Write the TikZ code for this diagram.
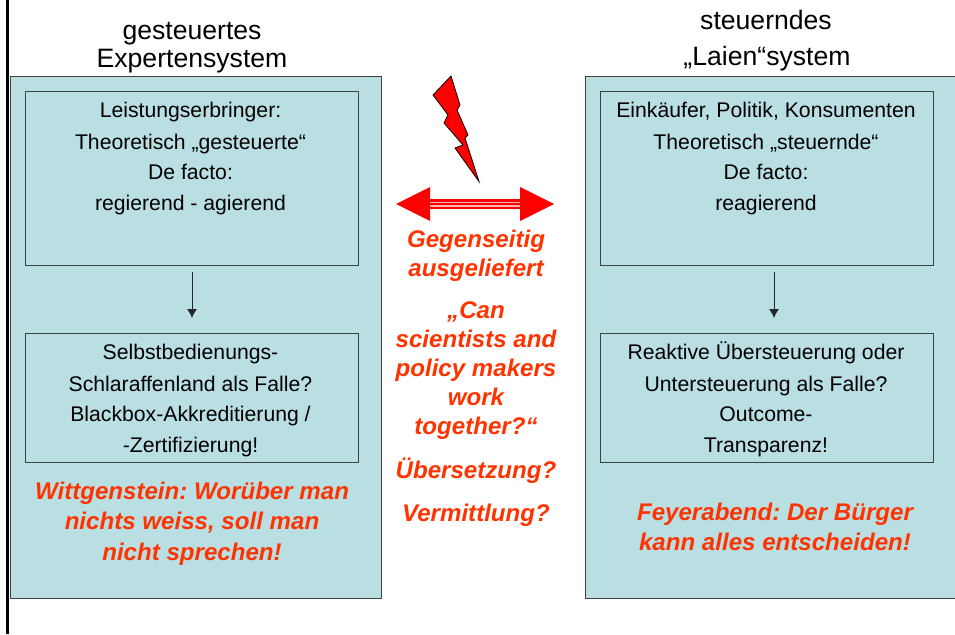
\documentclass[tikz,border=0pt]{standalone}
\usepackage{fontspec}
\setmainfont{Liberation Sans}
\frenchspacing
\definecolor{teal1}{RGB}{185,223,227}
\definecolor{redtxt}{RGB}{255,51,0}
\usetikzlibrary{arrows.meta}
\tikzset{
 outerbox/.style={draw=black!75,fill=teal1,line width=1pt},
 innerbox/.style={draw=black!75,line width=1pt},
 lab/.style={anchor=base,inner sep=0pt,font=\fontsize{21.2}{21.2}\selectfont},
 head/.style={anchor=base,inner sep=0pt,font=\fontsize{26.6}{26.6}\selectfont},
 redlab/.style={anchor=base,inner sep=0pt,text=redtxt,font=\fontsize{24.1}{24.1}\selectfont\bfseries\itshape},
 flow/.style={draw=black!85,line width=1pt,-{Latex[length=9pt,width=10pt]}}
}
\begin{document}
\begin{tikzpicture}[x=1pt,y=-1pt]
\useasboundingbox (0,0) rectangle (955,634);
\draw[black,line width=2.6pt] (7.5,0) -- (7.5,634);
\node[outerbox,minimum width=371pt,minimum height=522pt,anchor=north west,inner sep=0pt] (lo) at (10,76) {};
\node[outerbox,minimum width=370pt,minimum height=522pt,anchor=north west,inner sep=0pt] (ro) at (585,76) {};
\node[innerbox,minimum width=333pt,minimum height=174pt,anchor=north west,inner sep=0pt] (l1) at (25,91) {};
\node[innerbox,minimum width=333pt,minimum height=129pt,anchor=north west,inner sep=0pt] (l2) at (25,333) {};
\node[innerbox,minimum width=333pt,minimum height=174pt,anchor=north west,inner sep=0pt] (r1) at (600,91) {};
\node[innerbox,minimum width=333pt,minimum height=129pt,anchor=north west,inner sep=0pt] (r2) at (600,333) {};
\coordinate (fl1) at (192,272);
\coordinate (fl2) at (192,318);
\coordinate (fr1) at (774,272);
\coordinate (fr2) at (774,318);
\draw[flow] (fl1) -- (fl2);
\draw[flow] (fr1) -- (fr2);
\node[head] (h1) at (192,39.5) {gesteuertes};
\node[head] (h2) at (192,67) {Expertensystem};
\node[head] (h3) at (766,30) {steuerndes};
\node[head] (h4) at (767,65.5) {„Laien“system};
\node[lab] (a1) at (190.5,117) {Leistungserbringer:};
\node[lab] (a2) at (190.5,149) {Theoretisch „gesteuerte“};
\node[lab] (a3) at (190.5,179) {De facto:};
\node[lab] (a4) at (190.5,210) {regierend - agierend};
\node[lab] (b1) at (190.5,359) {Selbstbedienungs-};
\node[lab] (b2) at (190.5,391) {Schlaraffenland als Falle?};
\node[lab] (b3) at (190.5,421) {Blackbox-Akkreditierung /};
\node[lab] (b4) at (190.5,452) {-Zertifizierung!};
\node[lab] (c1) at (766,117) {Einkäufer, Politik, Konsumenten};
\node[lab] (c2) at (766,149) {Theoretisch „steuernde“};
\node[lab] (c3) at (766,179) {De facto:};
\node[lab] (c4) at (766,210) {reagierend};
\node[lab] (d1) at (766,359) {Reaktive Übersteuerung oder};
\node[lab] (d2) at (766,391) {Untersteuerung als Falle?};
\node[lab] (d3) at (766,421) {Outcome-};
\node[lab] (d4) at (766,452) {Transparenz!};
\node[redlab] (e1) at (192,499) {Wittgenstein: Worüber man};
\node[redlab] (e2) at (192,529) {nichts weiss, soll man};
\node[redlab] (e3) at (192,560) {nicht sprechen!};
\node[redlab] (f1) at (775,520) {Feyerabend: Der Bürger};
\node[redlab] (f2) at (775,550) {kann alles entscheiden!};
\node[redlab] (g1) at (476,247) {Gegenseitig};
\node[redlab] (g2) at (476,276) {ausgeliefert};
\node[redlab] (g3) at (476,318) {„Can};
\node[redlab] (g4) at (476,347) {scientists and};
\node[redlab] (g5) at (476,376) {policy makers};
\node[redlab] (g6) at (476,405) {work};
\node[redlab] (g7) at (476,434) {together?“};
\node[redlab] (g8) at (476,478) {Übersetzung?};
\node[redlab] (g9) at (476,521) {Vermittlung?};
% lightning
\draw[fill=red,draw=black,line width=0.8pt,line join=miter]
 (451,76) -- (433,95) -- (448,115) -- (444,123) -- (463,145) -- (455,148) -- (479,181.5)
 -- (465,138) -- (468,135) -- (457,110) -- (460,105) -- cycle;
% double arrow
\fill[red] (396,204) -- (430,187) -- (430,221) -- cycle;
\fill[red] (554,204) -- (520,187) -- (520,221) -- cycle;
\fill[red] (430,199) rectangle (520,209);
\fill[white!70!red] (430,201.5) rectangle (520,203);
\fill[white!70!red] (430,205) rectangle (520,206.5);
\end{tikzpicture}
\end{document}
